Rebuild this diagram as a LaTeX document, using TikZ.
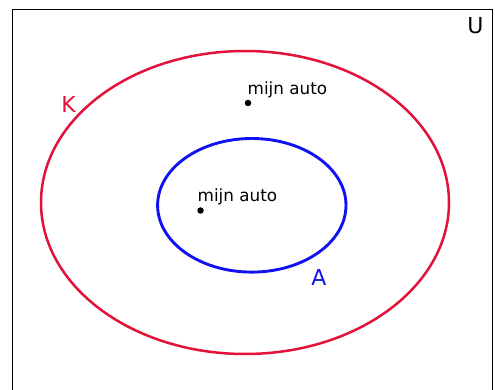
\documentclass[tikz,border=0pt]{standalone}
\usepackage{fontspec}
\setmainfont{DejaVu Sans}
\definecolor{setred}{RGB}{226,18,58}
\definecolor{setblue}{RGB}{18,18,240}
\tikzset{
  frame/.style={draw=black,line width=1.8pt},
  outerset/.style={draw=setred,line width=2.5pt},
  innerset/.style={draw=setblue,line width=2.9pt},
  elem/.style={circle,fill=black,inner sep=0pt,minimum size=6.5pt},
  elemlabel/.style={anchor=base west,inner sep=0pt,font=\fontsize{16.8}{18}\selectfont},
  setlabel/.style={inner sep=0pt,font=\fontsize{22}{24}\selectfont}
}
\begin{document}
\begin{tikzpicture}[x=1pt,y=-1pt]
\useasboundingbox (0,0) rectangle (495,390);
\fill[white] (0,0) rectangle (495,390);
\draw[frame] (12.5,390) -- (12.5,9.5) -- (492.5,9.5) -- (492.5,390);
\node[setlabel] (U) at (475.5,26) {U};
\draw[outerset] (245,202.5) ellipse [x radius=204, y radius=151.5];
\draw[innerset] (251.8,205.3) ellipse [x radius=94.2, y radius=66.8];
\node[setlabel,text=setred] (K) at (68.5,104) {K};
\node[setlabel,text=setblue] (A) at (319,277) {A};
\node[elem] (p1) at (248,103) {};
\node[elemlabel] (l1) at (247.5,95) {mijn auto};
\node[elem] (p2) at (200.5,210.5) {};
\node[elemlabel] (l2) at (197.5,202) {mijn auto};
\end{tikzpicture}
\end{document}
